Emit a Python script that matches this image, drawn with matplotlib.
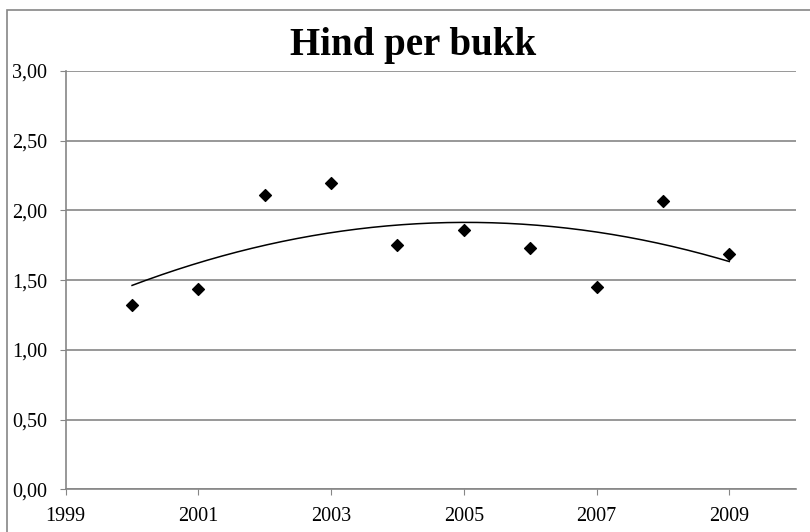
import numpy as np
import matplotlib.pyplot as plt
from matplotlib.patches import Rectangle
from matplotlib.ticker import FuncFormatter

years = [2000, 2001, 2002, 2003, 2004, 2005, 2006, 2007, 2008, 2009]
hind_per_bukk = [1.32, 1.44, 2.11, 2.20, 1.75, 1.86, 1.73, 1.45, 2.07, 1.69]
title = "Hind per bukk"

plt.rcParams['font.family'] = ['Liberation Serif', 'DejaVu Serif']
grey = '#868686'

W, H = 810, 532
fig = plt.figure(figsize=(W / 100, H / 100), dpi=100)

# outer chart border (Excel style)
fig.patches.append(Rectangle((7 / W, -0.1), 1.2, (H - 10) / H + 0.1, transform=fig.transFigure,
                             fill=False, edgecolor=grey, linewidth=1.2))

left, right, top, bottom = 65.7, 795.6, 71, 489.3
ax = fig.add_axes([left / W, (H - bottom) / H, (right - left) / W, (bottom - top) / H])

# polynomial trendline, order 2
coef = np.polyfit(years, hind_per_bukk, 2)
xs = np.linspace(years[0], years[-1], 200)
ax.plot(xs, np.polyval(coef, xs), color='black', linewidth=1.1, zorder=2)

ax.scatter(years, hind_per_bukk, marker='D', s=36, color='black', zorder=3)

ax.set_xlim(1999, 2010)
ax.set_ylim(0, 3)
ax.set_xticks([1999, 2001, 2003, 2005, 2007, 2009])
ax.set_yticks(np.arange(0, 3.01, 0.5))
ax.yaxis.set_major_formatter(FuncFormatter(lambda v, p: f"{v:.2f}".replace('.', ',')))

ax.grid(axis='y', color=grey, linewidth=1.2)
ax.set_axisbelow(True)
for s in ['top', 'right']:
    ax.spines[s].set_visible(False)
for s in ['left', 'bottom']:
    ax.spines[s].set_color(grey)
    ax.spines[s].set_linewidth(1.2)

ax.tick_params(axis='both', direction='out', colors=grey, labelcolor='black', labelsize=14.5)
ax.tick_params(axis='x', length=4, pad=9)
ax.tick_params(axis='y', length=4.3, pad=9)

fig.text(0.51, 1 - 45 / H, title, ha='center', va='center', fontsize=28, fontweight='bold')

plt.savefig("out.png", dpi=100)
